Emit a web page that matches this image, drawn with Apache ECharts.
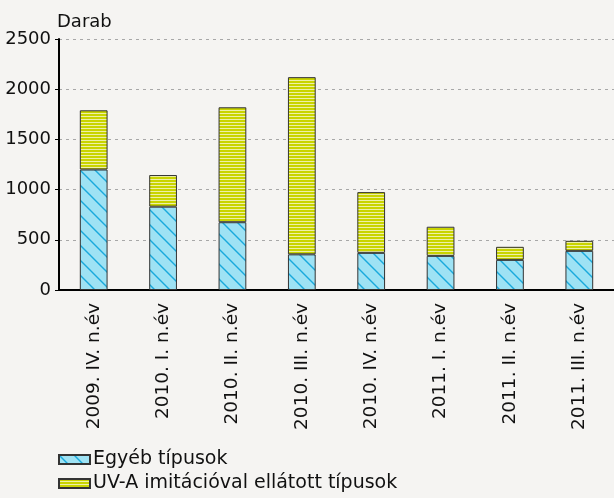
<!DOCTYPE html>
<html><head><meta charset="utf-8">
<script src="https://cdn.jsdelivr.net/npm/echarts@6/dist/echarts.min.js"></script>
<style>html,body{margin:0;padding:0;background:#f5f4f2}#c{width:614px;height:498px}</style>
</head><body><div id="c"></div>
<script>
const categories = ['2009. IV. n.év','2010. I. n.év','2010. II. n.év','2010. III. n.év','2010. IV. n.év','2011. I. n.év','2011. II. n.év','2011. III. n.év'];
const egyeb = [1200, 830, 675, 355, 370, 340, 300, 390];
const uva = [590, 315, 1145, 1765, 605, 290, 130, 100];
const yTicks = [0, 500, 1000, 1500, 2000, 2500];
const seriesNames = ['Egyéb típusok', 'UV-A imitációval ellátott típusok'];

function bluePattern(){
  const s = 15, c = document.createElement('canvas');
  c.width = s; c.height = s;
  const g = c.getContext('2d');
  g.fillStyle = '#9ee2f4'; g.fillRect(0,0,s,s);
  g.strokeStyle = '#1aa9dc'; g.lineWidth = 1.4;
  g.beginPath();
  g.moveTo(-2,-2); g.lineTo(s+2,s+2);
  g.moveTo(-2,s-2); g.lineTo(2,s+2);
  g.moveTo(s-2,-2); g.lineTo(s+2,2);
  g.stroke();
  return c;
}
function yellowPattern(){
  const c = document.createElement('canvas');
  c.width = 4; c.height = 3;
  const g = c.getContext('2d');
  g.fillStyle = '#c9d400'; g.fillRect(0,0,4,3);
  g.fillStyle = '#eef0a8'; g.fillRect(0,2,4,1);
  return c;
}
const chart = echarts.init(document.getElementById('c'), null, {renderer:'canvas'});
const font = 'DejaVu Sans';
chart.setOption({
  backgroundColor: '#f5f4f2',
  animation: false,
  textStyle: {fontFamily: font},
  grid: {left: 59, right: -1, top: 39, bottom: 208, containLabel: false},
  legend: {
    orient: 'vertical', left: 53, top: 445, itemWidth: 31, itemHeight: 9, itemGap: 5,
    icon: 'rect',
    textStyle: {fontFamily: font, fontSize: 19, color: '#111', padding:[0,0,0,-2]},
    data: seriesNames
  },
  xAxis: {
    type: 'category', data: categories,
    axisLine: {lineStyle: {color: '#000', width: 2}},
    axisTick: {length: 5, lineStyle: {color: '#000', width: 2}},
    axisLabel: {rotate: 90, fontSize: 18.5, color: '#111', margin: 13, fontFamily: font}
  },
  yAxis: {
    type: 'value', min: 0, max: 2500, interval: 500,
    name: 'Darab', nameLocation: 'end', nameGap: 8,
    nameTextStyle: {fontSize: 18, color: '#111', align: 'left', padding: [0,0,0,-2], fontFamily: font},
    axisLine: {show: true, lineStyle: {color: '#000', width: 2}},
    axisTick: {show: true, length: 4, lineStyle: {color: '#000', width: 1}},
    axisLabel: {fontSize: 18, color: '#111', margin: 8, fontFamily: font,
      formatter: v => yTicks.includes(v) ? String(v) : ''},
    splitLine: {lineStyle: {color: '#a8a8a8', type: [3,4], width: 1}}
  },
  series: [
    {name: seriesNames[0], type: 'bar', stack: 't', data: egyeb, barWidth: '40%',
     itemStyle: {color: {image: bluePattern(), repeat: 'repeat'}, borderColor: '#333', borderWidth: 1}},
    {name: seriesNames[1], type: 'bar', stack: 't', data: uva, barWidth: '40%',
     itemStyle: {color: {image: yellowPattern(), repeat: 'repeat'}, borderColor: '#333', borderWidth: 1}}
  ]
});
</script></body></html>
